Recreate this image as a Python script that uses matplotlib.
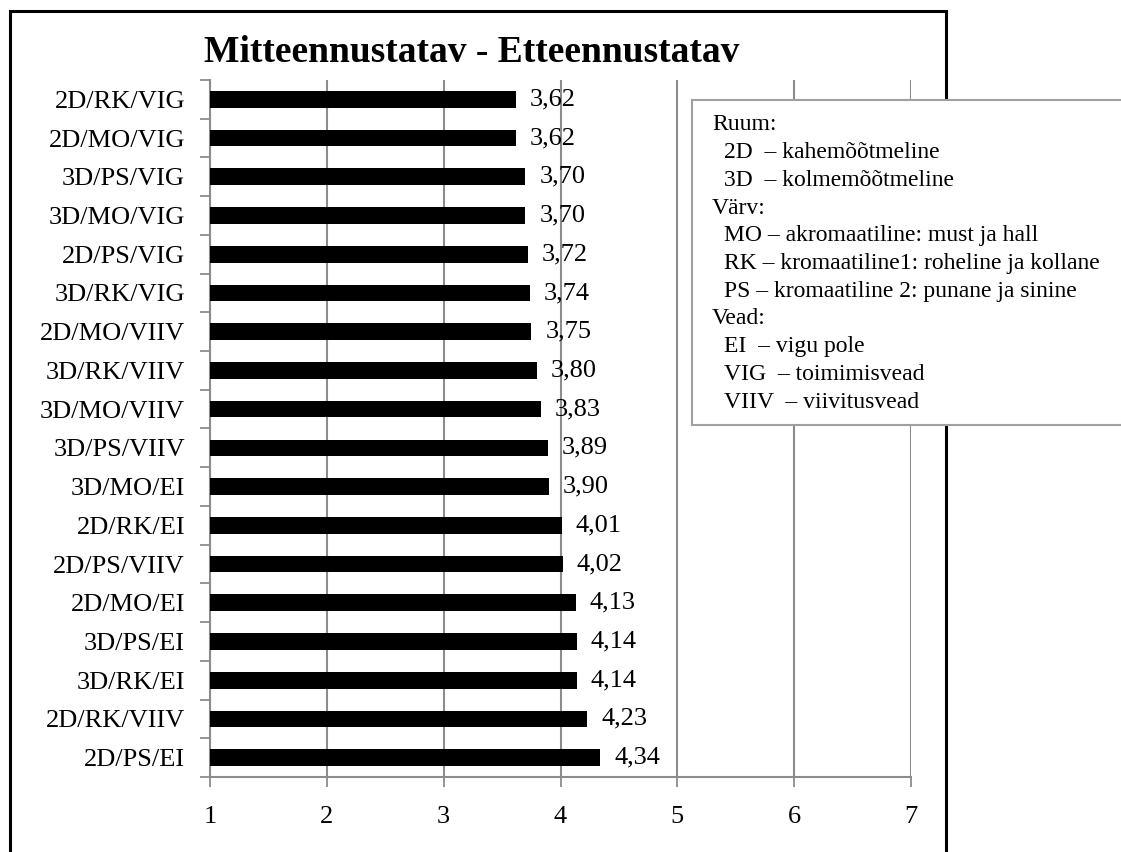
import matplotlib
matplotlib.use("Agg")
import matplotlib.pyplot as plt
from matplotlib.patches import Rectangle

plt.rcParams['font.family'] = ['Liberation Serif', 'DejaVu Serif']

categories = ["2D/RK/VIG", "2D/MO/VIG", "3D/PS/VIG", "3D/MO/VIG", "2D/PS/VIG",
              "3D/RK/VIG", "2D/MO/VIIV", "3D/RK/VIIV", "3D/MO/VIIV", "3D/PS/VIIV",
              "3D/MO/EI", "2D/RK/EI", "2D/PS/VIIV", "2D/MO/EI", "3D/PS/EI",
              "3D/RK/EI", "2D/RK/VIIV", "2D/PS/EI"]
values = [3.62, 3.62, 3.70, 3.70, 3.72, 3.74, 3.75, 3.80, 3.83, 3.89,
          3.90, 4.01, 4.02, 4.13, 4.14, 4.14, 4.23, 4.34]
x_ticks = [1, 2, 3, 4, 5, 6, 7]
title = "Mitteennustatav - Etteennustatav"
legend_lines = [
    ("Ruum:", 0),
    ("2D  – kahemõõtmeline", 1),
    ("3D  – kolmemõõtmeline", 1),
    ("Värv:", 0),
    ("MO – akromaatiline: must ja hall", 1),
    ("RK – kromaatiline1: roheline ja kollane", 1),
    ("PS – kromaatiline 2: punane ja sinine", 1),
    ("Vead:", 0),
    ("EI  – vigu pole", 1),
    ("VIG  – toimimisvead", 1),
    ("VIIV  – viivitusvead", 1),
]

W, H = 1121, 852
fig = plt.figure(figsize=(W / 100, H / 100), dpi=100)


def fx(px):
    return px / W


def fy(py):
    return 1 - py / H


# plot area in pixels: left 210, right 911, top 80, bottom 777
ax = fig.add_axes([fx(210), fy(777), fx(911) - fx(210), fy(80) - fy(777)])

grid_c = "#8c8c8c"
ypos = list(range(len(categories)))
ax.barh(ypos, values, height=0.43, color="black", zorder=3)
ax.set_xlim(1, 7)
ax.set_ylim(len(categories) - 0.5, -0.5)

for y, v in zip(ypos, values):
    ax.text(v + 0.12, y, f"{v:.2f}".replace(".", ","), va="center", ha="left",
            fontsize=19, zorder=4)

ax.set_xticks(x_ticks)
ax.set_xticklabels([str(t) for t in x_ticks], fontsize=19)
ax.set_yticks(ypos)
ax.set_yticklabels(categories, fontsize=19)
# category boundary ticks on the y axis
ax.set_yticks([i - 0.5 for i in range(len(categories) + 1)], minor=True)
ax.tick_params(axis="y", which="major", length=0, pad=18)
ax.tick_params(axis="y", which="minor", length=7, width=1.3, color=grid_c)
ax.tick_params(axis="x", length=7, width=1.3, color=grid_c, pad=14)

ax.xaxis.grid(True, color=grid_c, linewidth=1.5, zorder=0)
ax.set_axisbelow(True)
for side in ("top", "right"):
    ax.spines[side].set_visible(False)
for side in ("left", "bottom"):
    ax.spines[side].set_color(grid_c)
    ax.spines[side].set_linewidth(1.5)

fig.text(fx(472), fy(52), title, ha="center", va="center",
         fontsize=27, fontweight="bold")

# outer chart frame (bottom edge falls outside the image)
fig.add_artist(Rectangle((fx(10), fy(880)), fx(946) - fx(10), fy(11) - fy(880),
                         transform=fig.transFigure, fill=False,
                         edgecolor="black", linewidth=2.2, clip_on=False))

# legend box with abbreviations
fig.add_artist(Rectangle((fx(692), fy(425)), fx(1140) - fx(692), fy(100) - fy(425),
                         transform=fig.transFigure, facecolor="white",
                         edgecolor="#a0a0a0", linewidth=1.5, clip_on=False,
                         zorder=5))
for i, (line, indent) in enumerate(legend_lines):
    fig.text(fx(712 + indent * 12), fy(125 + i * 27.7), line, ha="left",
             va="center", fontsize=17, zorder=6)

fig.savefig("out.png", dpi=100)
